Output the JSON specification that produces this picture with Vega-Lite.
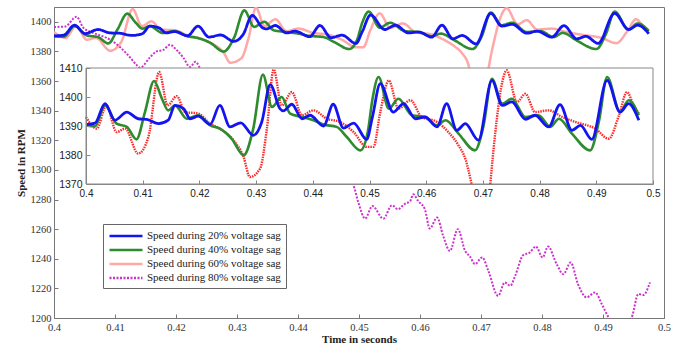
{
"$schema": "https://vega.github.io/schema/vega-lite/v6.json",
"width": 610, "height": 311,
"autosize": {"type": "none"},
"padding": {"left": 54, "top": 7, "right": 18, "bottom": 29},
"background": "white",
"config": {"view": {"stroke": "#777", "strokeWidth": 1}, "font": "Liberation Serif"},
"datasets": {"d": [
{"s":"20","t":0.4,"v":1390.5},{"s":"20","t":0.4016,"v":1391},{"s":"20","t":0.40335,"v":1397.7},{"s":"20","t":0.4051,"v":1392},{"s":"20","t":0.4072,"v":1394.8},{"s":"20","t":0.4092,"v":1392.5},{"s":"20","t":0.4107,"v":1392.3},{"s":"20","t":0.4128,"v":1390.8},{"s":"20","t":0.4145,"v":1392},{"s":"20","t":0.4157,"v":1397.1},{"s":"20","t":0.4172,"v":1396},{"s":"20","t":0.4184,"v":1392.5},{"s":"20","t":0.4198,"v":1393.4},{"s":"20","t":0.4219,"v":1390.6},{"s":"20","t":0.4236,"v":1397.1},{"s":"20","t":0.4254,"v":1389.7},{"s":"20","t":0.4273,"v":1391.1},{"s":"20","t":0.4295,"v":1386.8},{"s":"20","t":0.431,"v":1391.4},{"s":"20","t":0.4325,"v":1404.3},{"s":"20","t":0.4342,"v":1396},{"s":"20","t":0.4348,"v":1395.2},{"s":"20","t":0.4363,"v":1397.5},{"s":"20","t":0.4381,"v":1392.5},{"s":"20","t":0.4395,"v":1393.7},{"s":"20","t":0.4419,"v":1390},{"s":"20","t":0.4436,"v":1397.5},{"s":"20","t":0.4454,"v":1389.3},{"s":"20","t":0.4472,"v":1391},{"s":"20","t":0.4495,"v":1385.4},{"s":"20","t":0.4505,"v":1393},{"s":"20","t":0.4519,"v":1404.6},{"s":"20","t":0.4542,"v":1394.8},{"s":"20","t":0.456,"v":1397.7},{"s":"20","t":0.4581,"v":1392.5},{"s":"20","t":0.4598,"v":1393.1},{"s":"20","t":0.4619,"v":1389.7},{"s":"20","t":0.4636,"v":1397.7},{"s":"20","t":0.4654,"v":1388.5},{"s":"20","t":0.4669,"v":1390.8},{"s":"20","t":0.4692,"v":1385.1},{"s":"20","t":0.4716,"v":1405.7},{"s":"20","t":0.4734,"v":1397.1},{"s":"20","t":0.4751,"v":1398.3},{"s":"20","t":0.4775,"v":1392.3},{"s":"20","t":0.4792,"v":1393.7},{"s":"20","t":0.4816,"v":1389.7},{"s":"20","t":0.4836,"v":1397.4},{"s":"20","t":0.4857,"v":1388.5},{"s":"20","t":0.4872,"v":1390.2},{"s":"20","t":0.4892,"v":1385.4},{"s":"20","t":0.4919,"v":1405.7},{"s":"20","t":0.4942,"v":1394.8},{"s":"20","t":0.4957,"v":1397.7},{"s":"20","t":0.4975,"v":1392},
{"s":"40","t":0.4,"v":1390.2},{"s":"40","t":0.4016,"v":1389.9},{"s":"40","t":0.40335,"v":1397.1},{"s":"40","t":0.4054,"v":1390.8},{"s":"40","t":0.4072,"v":1389.7},{"s":"40","t":0.4089,"v":1385.4},{"s":"40","t":0.4104,"v":1394.8},{"s":"40","t":0.412,"v":1405.5},{"s":"40","t":0.4134,"v":1399.4},{"s":"40","t":0.4145,"v":1395.4},{"s":"40","t":0.4157,"v":1397.1},{"s":"40","t":0.4178,"v":1392.5},{"s":"40","t":0.4198,"v":1393.7},{"s":"40","t":0.4219,"v":1390.2},{"s":"40","t":0.4236,"v":1389.1},{"s":"40","t":0.4257,"v":1385.6},{"s":"40","t":0.4278,"v":1379.9},{"s":"40","t":0.4295,"v":1389.1},{"s":"40","t":0.4312,"v":1407.7},{"s":"40","t":0.4328,"v":1396.6},{"s":"40","t":0.4345,"v":1400},{"s":"40","t":0.436,"v":1394.3},{"s":"40","t":0.4381,"v":1393.1},{"s":"40","t":0.4401,"v":1392},{"s":"40","t":0.4419,"v":1390.5},{"s":"40","t":0.4442,"v":1389.7},{"s":"40","t":0.446,"v":1386.2},{"s":"40","t":0.4484,"v":1381.6},{"s":"40","t":0.4497,"v":1388},{"s":"40","t":0.4505,"v":1399},{"s":"40","t":0.4516,"v":1406.9},{"s":"40","t":0.4534,"v":1396},{"s":"40","t":0.4551,"v":1399.4},{"s":"40","t":0.4575,"v":1393.7},{"s":"40","t":0.4598,"v":1393.1},{"s":"40","t":0.4619,"v":1390.2},{"s":"40","t":0.4634,"v":1392},{"s":"40","t":0.4657,"v":1387.4},{"s":"40","t":0.4686,"v":1381.6},{"s":"40","t":0.4701,"v":1390},{"s":"40","t":0.4716,"v":1406.3},{"s":"40","t":0.4734,"v":1397.7},{"s":"40","t":0.4751,"v":1399.4},{"s":"40","t":0.4775,"v":1393.1},{"s":"40","t":0.4798,"v":1393.7},{"s":"40","t":0.4819,"v":1389.7},{"s":"40","t":0.4834,"v":1392.5},{"s":"40","t":0.4857,"v":1387.4},{"s":"40","t":0.4889,"v":1381.6},{"s":"40","t":0.4905,"v":1392},{"s":"40","t":0.4919,"v":1406.9},{"s":"40","t":0.4942,"v":1394.8},{"s":"40","t":0.4957,"v":1398.9},{"s":"40","t":0.4975,"v":1393.7},
{"s":"60","p":"a","t":0.4,"v":1393.1},{"s":"60","p":"a","t":0.4019,"v":1389.1},{"s":"60","p":"a","t":0.4036,"v":1397.1},{"s":"60","p":"a","t":0.4054,"v":1387.9},{"s":"60","p":"a","t":0.4069,"v":1389.1},{"s":"60","p":"a","t":0.4092,"v":1380.5},{"s":"60","p":"a","t":0.411,"v":1386.2},{"s":"60","p":"a","t":0.4129,"v":1408.6},{"s":"60","p":"a","t":0.4144,"v":1397.1},{"s":"60","p":"a","t":0.416,"v":1400.3},{"s":"60","p":"a","t":0.4175,"v":1394.8},{"s":"60","p":"a","t":0.4198,"v":1394.3},{"s":"60","p":"a","t":0.4219,"v":1390.8},{"s":"60","p":"a","t":0.4236,"v":1389.1},{"s":"60","p":"a","t":0.426,"v":1385.1},{"s":"60","p":"a","t":0.4278,"v":1379.3},{"s":"60","p":"a","t":0.4289,"v":1372.4},{"s":"60","p":"a","t":0.4307,"v":1375.3},{"s":"60","p":"a","t":0.4319,"v":1389.1},{"s":"60","p":"a","t":0.4331,"v":1409.5},{"s":"60","p":"a","t":0.4345,"v":1397.1},{"s":"60","p":"a","t":0.4363,"v":1401.7},{"s":"60","p":"a","t":0.4381,"v":1393.7},{"s":"60","p":"a","t":0.4401,"v":1395.4},{"s":"60","p":"a","t":0.4425,"v":1392.5},{"s":"60","p":"a","t":0.4448,"v":1391.4},{"s":"60","p":"a","t":0.4472,"v":1387.9},{"s":"60","p":"a","t":0.4495,"v":1382.8},{"s":"60","p":"a","t":0.4507,"v":1382.8},{"s":"60","p":"a","t":0.4519,"v":1394.8},{"s":"60","p":"a","t":0.4534,"v":1405.7},{"s":"60","p":"a","t":0.4551,"v":1396},{"s":"60","p":"a","t":0.4572,"v":1398.9},{"s":"60","p":"a","t":0.4592,"v":1393.1},{"s":"60","p":"a","t":0.4619,"v":1391.4},{"s":"60","p":"a","t":0.4639,"v":1387.9},{"s":"60","p":"a","t":0.4657,"v":1383.3},{"s":"60","p":"a","t":0.4669,"v":1378.7},{"s":"60","p":"a","t":0.468,"v":1370},{"s":"60","p":"a","t":0.4688,"v":1352},{"s":"60","p":"a","t":0.4697,"v":1338},{"s":"60","p":"b","t":0.4706,"v":1352},{"s":"60","p":"b","t":0.4713,"v":1370},{"s":"60","p":"b","t":0.4722,"v":1388},{"s":"60","p":"b","t":0.4732,"v":1403},{"s":"60","p":"b","t":0.4742,"v":1409.2},{"s":"60","p":"b","t":0.476,"v":1398.3},{"s":"60","p":"b","t":0.4775,"v":1401.1},{"s":"60","p":"b","t":0.4792,"v":1394.8},{"s":"60","p":"b","t":0.4816,"v":1395.4},{"s":"60","p":"b","t":0.484,"v":1393.1},{"s":"60","p":"b","t":0.4863,"v":1391.4},{"s":"60","p":"b","t":0.4898,"v":1389.1},{"s":"60","p":"b","t":0.4922,"v":1385.6},{"s":"60","p":"b","t":0.494,"v":1393.7},{"s":"60","p":"b","t":0.4954,"v":1401.7},{"s":"60","p":"b","t":0.4966,"v":1397.1},{"s":"60","p":"b","t":0.4975,"v":1394.3},
{"s":"80","t":0.4,"v":1396.5},{"s":"80","t":0.4018,"v":1396.8},{"s":"80","t":0.4037,"v":1403.4},{"s":"80","t":0.4048,"v":1396},{"s":"80","t":0.4064,"v":1392.6},{"s":"80","t":0.4092,"v":1387.9},{"s":"80","t":0.4108,"v":1383},{"s":"80","t":0.4125,"v":1375.8},{"s":"80","t":0.4135,"v":1371},{"s":"80","t":0.4141,"v":1369},{"s":"80","t":0.4157,"v":1375.8},{"s":"80","t":0.4168,"v":1380},{"s":"80","t":0.4179,"v":1381},{"s":"80","t":0.419,"v":1384.5},{"s":"80","t":0.4201,"v":1381},{"s":"80","t":0.4212,"v":1375.8},{"s":"80","t":0.4223,"v":1369.5},{"s":"80","t":0.4232,"v":1373},{"s":"80","t":0.4239,"v":1369},{"s":"80","t":0.426,"v":1355},{"s":"80","t":0.43,"v":1345},{"s":"80","t":0.435,"v":1330},{"s":"80","t":0.44,"v":1318},{"s":"80","t":0.445,"v":1302},{"s":"80","t":0.449,"v":1290.2},{"s":"80","t":0.4499,"v":1277.9},{"s":"80","t":0.451,"v":1267.1},{"s":"80","t":0.4522,"v":1275.6},{"s":"80","t":0.454,"v":1267.1},{"s":"80","t":0.4554,"v":1276.1},{"s":"80","t":0.4564,"v":1273.4},{"s":"80","t":0.4574,"v":1276.8},{"s":"80","t":0.4584,"v":1279},{"s":"80","t":0.4589,"v":1283.5},{"s":"80","t":0.4597,"v":1279},{"s":"80","t":0.4608,"v":1273.4},{"s":"80","t":0.4616,"v":1260.4},{"s":"80","t":0.4628,"v":1267.8},{"s":"80","t":0.4638,"v":1255.4},{"s":"80","t":0.4649,"v":1245.3},{"s":"80","t":0.4662,"v":1260},{"s":"80","t":0.4674,"v":1245.3},{"s":"80","t":0.4682,"v":1241.5},{"s":"80","t":0.469,"v":1236.4},{"s":"80","t":0.4702,"v":1240.9},{"s":"80","t":0.4712,"v":1231.9},{"s":"80","t":0.4728,"v":1215},{"s":"80","t":0.4739,"v":1224},{"s":"80","t":0.4748,"v":1221.8},{"s":"80","t":0.4756,"v":1228.5},{"s":"80","t":0.4769,"v":1242.4},{"s":"80","t":0.478,"v":1244.2},{"s":"80","t":0.479,"v":1248.3},{"s":"80","t":0.4801,"v":1240.9},{"s":"80","t":0.481,"v":1248.3},{"s":"80","t":0.4824,"v":1236.4},{"s":"80","t":0.4835,"v":1229.6},{"s":"80","t":0.4847,"v":1237.5},{"s":"80","t":0.4859,"v":1222.9},{"s":"80","t":0.4873,"v":1213.9},{"s":"80","t":0.4887,"v":1217.3},{"s":"80","t":0.4898,"v":1209.4},{"s":"80","t":0.4909,"v":1200.5},{"s":"80","t":0.4925,"v":1192},{"s":"80","t":0.4947,"v":1200.5},{"s":"80","t":0.4958,"v":1216.2},{"s":"80","t":0.4966,"v":1215.5},{"s":"80","t":0.4977,"v":1224}
]},
"data": {"name": "d"},
"layer": [
{
"encoding": {
"x": {"field": "t", "type": "quantitative", "scale": {"domain": [0.4, 0.5], "nice": false, "zero": false},
"axis": {"orient": "bottom", "values": [0.4,0.41,0.42,0.43,0.44,0.45,0.46,0.47,0.48,0.49,0.5], "format": ".2~f", "grid": false, "labelFont": "Liberation Serif", "labelFontSize": 10.5, "labelColor": "#333", "domainColor": "#777", "tickColor": "#777", "tickSize": -4, "labelPadding": 8, "labelFlush": false, "title": "Time in seconds", "titleFont": "Liberation Serif", "titleFontSize": 11, "titleFontWeight": "bold", "titleColor": "#222", "titlePadding": 1}},
"y": {"field": "v", "type": "quantitative", "scale": {"domain": [1200, 1410], "nice": false, "zero": false},
"axis": {"orient": "left", "values": [1200,1220,1240,1260,1280,1300,1320,1340,1360,1380,1400], "format": "d", "grid": false, "labelFont": "Liberation Serif", "labelFontSize": 10.5, "labelColor": "#333", "domainColor": "#777", "tickColor": "#777", "tickSize": -4, "labelPadding": 7, "labelFlush": false, "title": "Speed in RPM", "titleFont": "Liberation Serif", "titleFontSize": 11, "titleFontWeight": "bold", "titleColor": "#222", "titlePadding": 4}},
"color": {"field": "s", "type": "nominal", "scale": {"domain": ["20","40","60","80"], "range": ["#1414f0", "#2e8b2e", "#ffa8a8", "#cc33cc"]},
"legend": {"orient": "none", "legendX": 49, "legendY": 217, "title": null, "symbolType": "M-1,0H5", "symbolSize": 121, "symbolStrokeWidth": 2.5, "labelOffset": 25, "labelFont": "Liberation Serif", "labelFontSize": 11, "labelColor": "#222", "strokeColor": "#666", "fillColor": "white", "padding": 5, "rowPadding": 2, "labelExpr": "'Speed during ' + datum.label + '% voltage sag'"}},
"strokeDash": {"field": "s", "type": "nominal", "scale": {"domain": ["20","40","60","80"], "range": [[1,0],[1,0],[1,0],[2,1.5]]},
"legend": {"orient": "none", "legendX": 49, "legendY": 217, "title": null, "symbolType": "M-1,0H5", "symbolSize": 121, "symbolStrokeWidth": 2.5, "labelOffset": 25, "labelFont": "Liberation Serif", "labelFontSize": 11, "labelColor": "#222", "strokeColor": "#666", "fillColor": "white", "padding": 5, "rowPadding": 2, "labelExpr": "'Speed during ' + datum.label + '% voltage sag'"}}
},
"layer": [
{"transform": [{"filter": "datum.s == '60'"}], "mark": {"type": "line", "strokeWidth": 2.5, "interpolate": "monotone", "clip": true}},
{"transform": [{"filter": "datum.s == '80'"}], "mark": {"type": "line", "strokeWidth": 2, "interpolate": "monotone", "clip": true}},
{"transform": [{"filter": "datum.s == '40'"}], "mark": {"type": "line", "strokeWidth": 2.6, "interpolate": "monotone", "clip": true}},
{"transform": [{"filter": "datum.s == '20'"}], "mark": {"type": "line", "strokeWidth": 2.8, "interpolate": "monotone", "clip": true}}
]
},
{
"layer": [
{"data": {"values": [{"a": 0.4, "b": 0.5, "c": 1370, "d": 1410}]},
"mark": {"type": "rect", "fill": "white", "stroke": "#888", "strokeWidth": 1},
"encoding": {
"x": {"field": "a", "type": "quantitative", "scale": {"domain": [0.4, 0.5], "range": [32, 599], "nice": false, "zero": false},
"axis": {"orient": "bottom", "offset": -134, "zindex": 1, "values": [0.4,0.41,0.42,0.43,0.44,0.45,0.46,0.47,0.48,0.49,0.5], "format": ".2~f", "grid": false, "labelFont": "Liberation Sans", "labelFontSize": 10, "labelColor": "#222", "domainColor": "#888", "tickColor": "#888", "tickSize": -4, "labelPadding": 8, "labelFlush": false, "title": null}},
"x2": {"field": "b"},
"y": {"field": "c", "type": "quantitative", "scale": {"domain": [1370, 1410], "range": [177, 61], "nice": false, "zero": false},
"axis": {"orient": "left", "offset": -32, "zindex": 1, "values": [1370,1380,1390,1400,1410], "format": "d", "grid": false, "labelFont": "Liberation Sans", "labelFontSize": 10.5, "labelColor": "#222", "domainColor": "#888", "tickColor": "#888", "tickSize": -4, "labelPadding": 8, "labelFlush": false, "title": null}},
"y2": {"field": "d"}
}},
{"transform": [{"filter": "datum.s == '60' && datum.v >= 1370"}],
"mark": {"type": "line", "color": "#ff2a2a", "strokeWidth": 2.4, "strokeDash": [1.5, 1], "interpolate": "monotone"},
"encoding": {"x": {"field": "t", "type": "quantitative"}, "y": {"field": "v", "type": "quantitative"}, "detail": {"field": "p"}}},
{"transform": [{"filter": "datum.s == '40'"}],
"mark": {"type": "line", "color": "#2e8b2e", "strokeWidth": 2.6, "interpolate": "monotone"},
"encoding": {"x": {"field": "t", "type": "quantitative"}, "y": {"field": "v", "type": "quantitative"}}},
{"transform": [{"filter": "datum.s == '20'"}],
"mark": {"type": "line", "color": "#1414f0", "strokeWidth": 2.8, "interpolate": "monotone"},
"encoding": {"x": {"field": "t", "type": "quantitative"}, "y": {"field": "v", "type": "quantitative"}}}
]
}
],
"resolve": {"scale": {"x": "independent", "y": "independent"}}
}
